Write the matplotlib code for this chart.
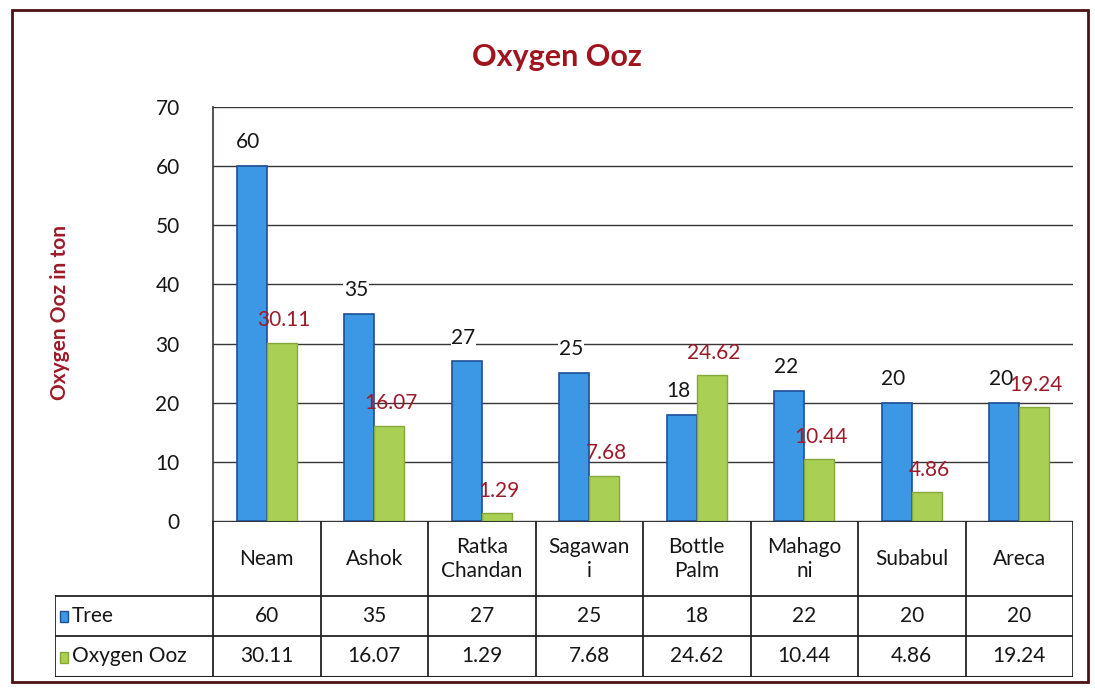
import matplotlib
matplotlib.use("Agg")
import matplotlib.pyplot as plt
from matplotlib.patches import Rectangle
import numpy as np

plt.rcParams['font.family'] = ['Lato', 'DejaVu Sans']

# tree names (table header uses wrapped versions)
trees = ["Neam", "Ashok", "Ratka Chandan", "Sagawani", "Bottle Palm",
         "Mahagoni", "Subabul", "Areca"]
tree_heads = ["Neam", "Ashok", "Ratka\nChandan", "Sagawan\ni", "Bottle\nPalm",
              "Mahago\nni", "Subabul", "Areca"]
tree_count = [60, 35, 27, 25, 18, 22, 20, 20]
oxygen = [30.11, 16.07, 1.29, 7.68, 24.62, 10.44, 4.86, 19.24]
oxygen_txt = ["30.11", "16.07", "1.29", "7.68", "24.62", "10.44", "4.86", "19.24"]
yticks = [0, 10, 20, 30, 40, 50, 60, 70]

blue = "#3c97e4"
blue_edge = "#1d4f96"
green = "#aacf55"
green_edge = "#86a83a"
dark_red = "#9e1a28"
grid_c = "#3a3535"
txt_c = "#161616"

W, H = 1095, 689
fig = plt.figure(figsize=(W / 100, H / 100), dpi=100)

def fbox(x0, y0, x1, y1):
    # pixel box (top-left origin) -> figure fraction rect
    return [x0 / W, 1 - y1 / H, (x1 - x0) / W, (y1 - y0) / H]

# outer frame
fig.patches.append(Rectangle((12 / W, 7 / H), 1076 / W, 672 / H,
                             transform=fig.transFigure, fill=False,
                             edgecolor="#4a1414", linewidth=2))

ax = fig.add_axes(fbox(213, 107, 1073, 521))
x = np.arange(len(trees)) + 0.5
bw = 0.28
ax.bar(x - bw / 2, tree_count, bw, color=blue, edgecolor=blue_edge,
       linewidth=1.2, zorder=3)
ax.bar(x + bw / 2, oxygen, bw, color=green, edgecolor=green_edge,
       linewidth=1.0, zorder=3)

for xi, v in zip(x, tree_count):
    ax.text(xi - bw / 2 - 0.03, v + 4.0, str(v), ha="center", va="center",
            fontsize=15, color=txt_c, zorder=2.5,
            bbox=dict(facecolor="white", edgecolor="none", pad=0.5))
for xi, v, t in zip(x, oxygen, oxygen_txt):
    ax.text(xi + bw / 2 + 0.02, v + 3.8, t, ha="center", va="center",
            fontsize=15, color=dark_red, zorder=6)

ax.set_xlim(0, 8)
ax.set_ylim(0, 70)
ax.set_yticks(yticks)
ax.set_yticklabels([str(t) for t in yticks], fontsize=15, color=txt_c)
ax.tick_params(axis="y", length=0, pad=24)
ax.set_xticks([])
ax.grid(axis="y", color=grid_c, linewidth=1.0, zorder=0)
for s in ["top", "right", "bottom"]:
    ax.spines[s].set_visible(False)
ax.spines["left"].set_color(grid_c)
ax.spines["left"].set_linewidth(1.2)

fig.text(60 / W, 1 - 313 / H, "Oxygen Ooz in ton", rotation=90,
         ha="center", va="center", fontsize=15, fontweight="bold",
         color=dark_red)
fig.text(557 / W, 1 - 57 / H, "Oxygen Ooz", ha="center", va="center",
         fontsize=22, fontweight="bold", color="#a0141e")

# data table under the chart
tb = fig.add_axes(fbox(55, 521, 1073, 677))
tb.set_xlim(-1.47, 8)
tb.set_ylim(156, 0)
tb.axis("off")
lc = "#222222"
# header row borders start at the axis line
tb.plot([0, 8], [0, 0], color=lc, lw=1.3)
tb.plot([-1.47, 8], [75, 75], color=lc, lw=1.3)
tb.plot([-1.47, 8], [115, 115], color=lc, lw=1.3)
tb.plot([-1.47, 8], [156, 156], color=lc, lw=1.5)
for i in range(9):
    tb.plot([i, i], [0, 156], color=lc, lw=1.3)
tb.plot([-1.47, -1.47], [75, 156], color=lc, lw=1.3)

fs = 15
for xi, name in zip(x, tree_heads):
    tb.text(xi, 38, name, ha="center", va="center", fontsize=fs,
            color=txt_c, linespacing=1.2)
for xi, v in zip(x, tree_count):
    tb.text(xi, 95, str(v), ha="center", va="center", fontsize=fs,
            color=txt_c)
for xi, t in zip(x, oxygen_txt):
    tb.text(xi, 135.5, t, ha="center", va="center", fontsize=fs,
            color=txt_c)

tb.add_patch(Rectangle((-1.42, 90), 0.075, 11, facecolor=blue,
                       edgecolor=blue_edge, lw=1))
tb.add_patch(Rectangle((-1.42, 131), 0.075, 11, facecolor=green,
                       edgecolor=green_edge, lw=1))
tb.text(-1.31, 95, "Tree", ha="left", va="center", fontsize=fs,
        color=txt_c)
tb.text(-1.31, 135.5, "Oxygen Ooz", ha="left", va="center", fontsize=fs,
        color=txt_c)

fig.savefig("out.png", dpi=100)
